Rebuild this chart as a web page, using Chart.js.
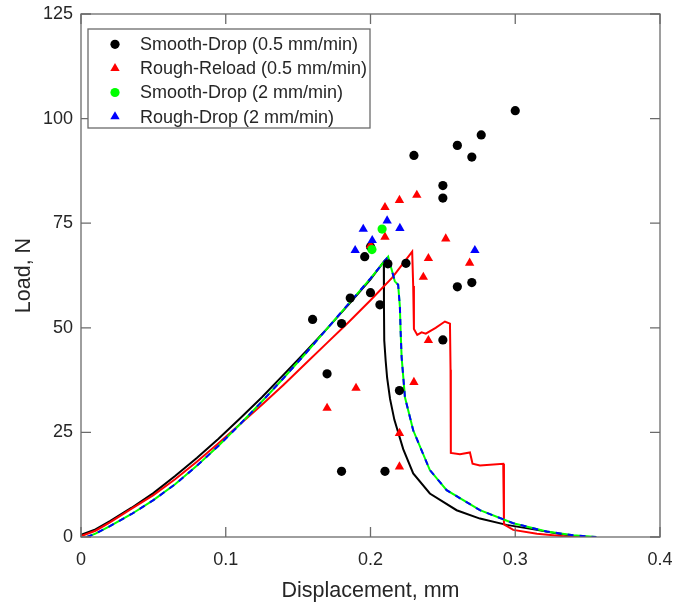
<!DOCTYPE html>
<html>
<head>
<meta charset="utf-8">
<script src="https://cdn.jsdelivr.net/npm/chart.js@4.4.1/dist/chart.umd.min.js"></script>
<style>
  html, body { margin: 0; padding: 0; background: #fff; }
  #wrap { width: 675px; height: 602px; }
</style>
</head>
<body>
<div id="wrap"><canvas id="chart" width="675" height="602"></canvas></div>
<script>
// Axis ticks
const xTicks = [0, 0.1, 0.2, 0.3, 0.4];
const yTicks = [0, 25, 50, 75, 100, 125];

// Scatter markers (peak loads)
const smoothDrop05X = [0.160, 0.170, 0.180, 0.180, 0.186, 0.196, 0.200, 0.200, 0.2065, 0.210, 0.212, 0.220, 0.2245, 0.230, 0.250, 0.250, 0.250, 0.260, 0.260, 0.270, 0.270, 0.2765, 0.300];
const smoothDrop05Y = [52.0, 39.0, 51.0, 15.7, 57.1, 67.0, 58.4, 69.4, 55.5, 15.7, 65.3, 35.0, 65.4, 91.2, 84.0, 81.0, 47.1, 93.6, 59.8, 90.8, 60.8, 96.1, 101.9];

const roughReload05X = [0.170, 0.190, 0.200, 0.210, 0.210, 0.220, 0.220, 0.220, 0.230, 0.232, 0.2365, 0.240, 0.240, 0.252, 0.2685];
const roughReload05Y = [30.8, 35.6, 69.7, 78.8, 71.7, 80.5, 24.8, 16.8, 37.0, 81.7, 62.1, 66.6, 47.0, 71.3, 65.5];

const smoothDrop2X = [0.201, 0.208];
const smoothDrop2Y = [68.7, 73.6];

const roughDrop2X = [0.1894, 0.195, 0.2012, 0.2115, 0.2203, 0.2721];
const roughDrop2Y = [68.5, 73.6, 70.9, 75.6, 73.8, 68.5];

// Load-displacement curves
const curveSmooth05X = [0, 0.01, 0.02, 0.035, 0.05, 0.065, 0.08, 0.095, 0.11, 0.125, 0.14, 0.155, 0.17, 0.185, 0.2, 0.2092, 0.2093, 0.2095, 0.2105, 0.2115, 0.2135, 0.2165, 0.2226, 0.2295, 0.241, 0.2595, 0.2756, 0.294, 0.3148, 0.330, 0.3447];
const curveSmooth05Y = [0.5, 1.8, 3.8, 7.0, 10.5, 14.6, 18.9, 23.5, 28.4, 33.4, 38.8, 44.2, 49.8, 55.6, 61.6, 65.8, 55.0, 47.0, 42.0, 38.0, 33.0, 28.0, 21.0, 15.2, 10.4, 6.4, 4.4, 2.9, 1.7, 0.8, 0];

const curveRough05X = [0, 0.01, 0.02, 0.035, 0.05, 0.065, 0.08, 0.095, 0.11, 0.125, 0.14, 0.155, 0.17, 0.185, 0.2, 0.215, 0.2288, 0.2295, 0.2300, 0.2323, 0.2353, 0.2382, 0.245, 0.2514, 0.2549, 0.2553, 0.2555, 0.2618, 0.2687, 0.2705, 0.2756, 0.2917, 0.2922, 0.2986, 0.315, 0.3332, 0.3447];
const curveRough05Y = [0.2, 1.5, 3.5, 6.8, 10.0, 13.8, 18.0, 22.4, 27.0, 31.6, 36.4, 41.4, 46.4, 51.4, 56.6, 62.0, 68.2, 60.0, 49.7, 48.3, 48.9, 48.6, 50.0, 51.5, 51.0, 40.0, 20.1, 19.8, 20.2, 17.5, 17.1, 17.5, 3.0, 1.7, 0.8, 0.2, 0];

const curveDrop2X = [0.004, 0.01, 0.02, 0.035, 0.05, 0.065, 0.08, 0.095, 0.11, 0.125, 0.14, 0.155, 0.17, 0.185, 0.2, 0.2122, 0.2168, 0.2191, 0.2203, 0.2208, 0.2215, 0.2238, 0.2295, 0.241, 0.2526, 0.2756, 0.2986, 0.3217, 0.340, 0.356];
const curveDrop2Y = [0, 0.8, 2.6, 5.5, 8.8, 12.6, 17.0, 21.8, 27.0, 32.4, 38.0, 43.8, 49.8, 55.8, 61.8, 67.0, 61.1, 60.3, 55.0, 49.3, 43.0, 33.4, 25.5, 16.0, 11.2, 6.4, 3.3, 1.3, 0.4, 0];

const toPoints = (xs, ys) => xs.map((x, i) => ({ x: x, y: ys[i] }));

const FONT = "'Liberation Sans', Arial, sans-serif";
const TEXT = '#262626';
const FRAME = '#6b6b6b';

// markers dataset helper
const markers = (label, xs, ys, color, style, r, order) => ({
    label: label,
    data: toPoints(xs, ys),
    backgroundColor: color,
    borderColor: color,
    borderWidth: 0,
    pointStyle: style,
    pointRadius: r,
    showLine: false,
    order: order
});

const curve = (xs, ys, color, dash, order) => ({
    label: '',
    data: toPoints(xs, ys),
    borderColor: color,
    backgroundColor: color,
    borderWidth: 2,
    borderDash: dash,
    pointRadius: 0,
    showLine: true,
    tension: 0,
    isCurve: true,
    order: order
});

// frame, inward ticks and boxed legend, MATLAB style
const frameAndLegend = {
    id: 'frameAndLegend',
    afterDatasetsDraw(chart) {
        const { ctx, chartArea: a, scales } = chart;
        ctx.save();
        ctx.strokeStyle = FRAME;
        ctx.lineWidth = 1.3;
        ctx.strokeRect(a.left, a.top, a.right - a.left, a.bottom - a.top);
        ctx.beginPath();
        const len = 10;
        xTicks.forEach(v => {
            const px = scales.x.getPixelForValue(v);
            ctx.moveTo(px, a.bottom); ctx.lineTo(px, a.bottom - len);
            ctx.moveTo(px, a.top); ctx.lineTo(px, a.top + len);
        });
        yTicks.forEach(v => {
            const py = scales.y.getPixelForValue(v);
            ctx.moveTo(a.left, py); ctx.lineTo(a.left + len, py);
            ctx.moveTo(a.right, py); ctx.lineTo(a.right - len, py);
        });
        ctx.stroke();

        // legend box
        const bx = a.left + 7, by = a.top + 15, bw = 282, bh = 99;
        ctx.fillStyle = '#fff';
        ctx.fillRect(bx, by, bw, bh);
        ctx.strokeRect(bx, by, bw, bh);
        const items = chart.data.datasets.filter(d => !d.isCurve);
        ctx.font = '18px ' + FONT;
        ctx.textBaseline = 'middle';
        items.forEach((d, i) => {
            const y = by + 15.3 + i * 24.1;
            ctx.fillStyle = d.backgroundColor;
            Chart.helpers.drawPoint(ctx, {
                pointStyle: d.pointStyle,
                radius: d.pointRadius,
                rotation: 0,
                borderWidth: 0
            }, bx + 27, y);
            ctx.fillStyle = TEXT;
            ctx.fillText(d.label, bx + 52, y + 1);
        });
        ctx.restore();
    }
};

new Chart(document.getElementById('chart'), {
    type: 'scatter',
    data: {
        datasets: [
            markers('Smooth-Drop (0.5 mm/min)', smoothDrop05X, smoothDrop05Y, '#000000', 'circle', 4.6, 3),
            markers('Rough-Reload (0.5 mm/min)', roughReload05X, roughReload05Y, '#ff0000', 'triangle', 5.4, 2),
            markers('Smooth-Drop (2 mm/min)', smoothDrop2X, smoothDrop2Y, '#00ff00', 'circle', 4.6, 1),
            markers('Rough-Drop (2 mm/min)', roughDrop2X, roughDrop2Y, '#0000ff', 'triangle', 5.4, 0),
            curve(curveSmooth05X, curveSmooth05Y, '#000000', [], 7),
            curve(curveRough05X, curveRough05Y, '#ff0000', [], 6),
            curve(curveDrop2X, curveDrop2Y, '#00ff00', [], 5),
            curve(curveDrop2X, curveDrop2Y, '#0000ff', [6, 6], 4)
        ]
    },
    options: {
        responsive: false,
        animation: false,
        layout: { padding: { left: 0, right: 15, top: 14, bottom: 0 } },
        plugins: {
            legend: { display: false },
            tooltip: { enabled: false }
        },
        scales: {
            x: {
                type: 'linear',
                min: 0,
                max: 0.4,
                grid: { display: false, drawTicks: false },
                border: { display: false },
                afterBuildTicks: s => { s.ticks = xTicks.map(v => ({ value: v })); },
                afterFit: s => { s.height = 65; s.paddingLeft = 0; s.paddingRight = 0; },
                ticks: {
                    padding: 12,
                    color: TEXT,
                    font: { family: FONT, size: 18 },
                    callback: v => String(v)
                },
                title: {
                    display: true,
                    text: 'Displacement, mm',
                    color: TEXT,
                    font: { family: FONT, size: 21.5, lineHeight: 1 },
                    padding: { top: 0, bottom: 0 }
                }
            },
            y: {
                type: 'linear',
                min: 0,
                max: 125,
                grid: { display: false, drawTicks: false },
                border: { display: false },
                afterBuildTicks: s => { s.ticks = yTicks.map(v => ({ value: v })); },
                afterFit: s => { s.width = 81; s.paddingTop = 0; s.paddingBottom = 0; },
                ticks: {
                    padding: 8,
                    color: TEXT,
                    font: { family: FONT, size: 18 }
                },
                title: {
                    display: true,
                    text: 'Load, N',
                    color: TEXT,
                    font: { family: FONT, size: 21.5, lineHeight: 1 },
                    padding: { top: 13, bottom: 0 }
                }
            }
        }
    },
    plugins: [frameAndLegend]
});
</script>
</body>
</html>
